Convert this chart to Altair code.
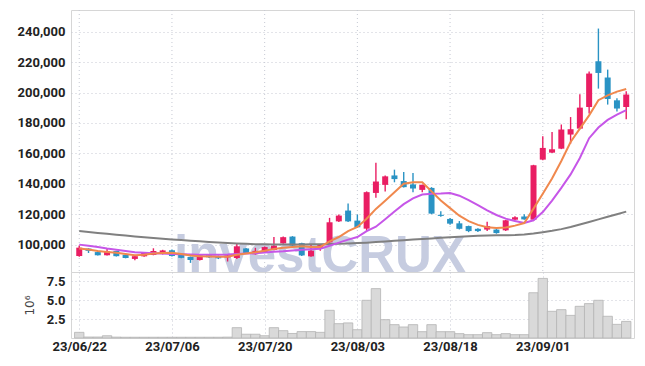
import altair as alt
import pandas as pd

# ---- data (trading-day index 0..59) ----
OPEN = [92500, 97400, 95100, 93000, 95800, 93300, 90600, 92300, 93200, 93800,
        96300, 93500, 91900, 89900, 93000, 92400, 91600, 91200, 97500, 93700,
        95200, 96500, 100800, 105300, 101000, 92300, 97300, 101500, 115300, 122400,
        115800, 110500, 134000, 139300, 145500, 141800, 139600, 136000, 137300, 119600,
        116900, 114000, 112200, 110400, 109900, 109900, 109400, 116400, 118500, 116400,
        155900, 160500, 163100, 172400, 176300, 190500, 220600, 209900, 194900, 190500]
HIGH = [99500, 97600, 95300, 97300, 96000, 93500, 92800, 95000, 97600, 96600,
        96800, 93700, 92200, 93500, 93500, 92800, 93300, 100800, 97800, 97900,
        98800, 105000, 105300, 105600, 101300, 99800, 100200, 117600, 119800, 127000,
        119800, 135000, 153800, 145500, 149300, 147800, 147100, 139600, 137800, 121900,
        117500, 115500, 112500, 110800, 115000, 110800, 116300, 118600, 120000, 152500,
        171200, 174000, 179000, 183900, 198900, 213900, 242100, 215100, 196300, 200900]
LOW = [92000, 94500, 92800, 92800, 92200, 91000, 89800, 92000, 93000, 93500,
       92200, 91000, 88000, 89500, 91200, 90500, 88900, 90500, 93800, 93400,
       94900, 96200, 100500, 99000, 92500, 92000, 96000, 101000, 114800, 114900,
       111000, 109000, 130900, 135000, 141000, 137500, 134400, 134500, 120000, 118400,
       113000, 110000, 108200, 108300, 109000, 107200, 109000, 115800, 116300, 115500,
       155500, 160200, 162800, 166400, 175800, 186200, 202600, 192100, 187500, 182400]
CLOSE = [98000, 95900, 93000, 95600, 92400, 91200, 92400, 94700, 95800, 96200,
         92500, 91300, 89900, 93000, 91700, 91000, 92900, 98900, 94100, 95900,
         98400, 99300, 104900, 99400, 92900, 96000, 99700, 114700, 119100, 115300,
         111400, 134500, 141500, 144900, 143100, 137800, 136900, 139300, 120400, 118900,
         113800, 110400, 108900, 108900, 112200, 107600, 116000, 118000, 116600, 152200,
         163600, 162700, 175700, 175900, 190100, 212500, 212900, 195800, 189500, 198700]

MA_SHORT = [97500, 96800, 95800, 95200, 94700, 93900, 93000, 93300, 94200, 94500,
            94600, 93800, 92800, 92400, 92200, 92100, 92000, 93400, 94200, 95000,
            96000, 97200, 97900, 98400, 98900, 98400, 98500, 102200, 105000, 108900,
            111600, 117000, 123500, 128900, 134400, 140000, 141000, 141000, 135000, 129000,
            124000, 119000, 115500, 113000, 111500, 110900, 111200, 112500, 114200, 123700,
            133500, 143500, 155000, 167500, 176300, 185000, 195000, 198200, 200600, 202400]
MA_MID = [100000, 99300, 98500, 97500, 96700, 95800, 95000, 94600, 94300, 94100,
          93900, 93700, 93500, 93400, 93400, 93400, 93500, 93900, 94200, 94400,
          94900, 95300, 95600, 96100, 96600, 96900, 97300, 99300, 101300, 103300,
          105000, 108900, 111800, 116700, 121800, 126600, 130400, 132900, 133400, 133600,
          134000, 132200, 129300, 126000, 122500, 119500, 117100, 115500, 114200, 116000,
          121400, 129000, 137300, 146200, 157000, 170000, 177000, 182000, 185500, 188500]
MA_LONG = [108900, 108300, 107700, 107100, 106500, 106000, 105400, 104900, 104400, 103900,
           103400, 103000, 102600, 102200, 101800, 101400, 101100, 100800, 100500, 100300,
           100200, 100100, 100100, 100100, 100100, 100200, 100300, 100400, 100600, 100800,
           101000, 101300, 101700, 102100, 102500, 102900, 103300, 103700, 104100, 104500,
           104900, 105200, 105500, 105800, 106000, 106100, 106200, 106300, 106600, 107300,
           108200, 109100, 110200, 111600, 113200, 114900, 116600, 118300, 120000, 121700]

VOLUME_M = [0.75, 0.13, 0.13, 0.30, 0.12, 0.10, 0.10, 0.10, 0.10, 0.10,
            0.10, 0.10, 0.10, 0.10, 0.10, 0.10, 0.12, 1.37, 0.50, 0.50,
            0.30, 1.37, 0.97, 0.60, 0.85, 0.85, 0.75, 3.67, 1.90, 2.00,
            1.10, 5.00, 6.55, 2.43, 1.77, 1.46, 1.77, 0.84, 1.77, 0.84,
            0.84, 0.58, 0.44, 0.44, 0.71, 0.44, 0.58, 0.44, 0.44, 6.00,
            7.90, 3.54, 3.76, 3.00, 4.20, 4.56, 5.00, 2.88, 1.81, 2.20]

TICK_POS = [0, 10, 20, 30, 40, 50]
TICK_LABELS = ["23/06/22", "23/07/06", "23/07/20", "23/08/03", "23/08/18", "23/09/01"]
PRICE_TICKS = [100000, 120000, 140000, 160000, 180000, 200000, 220000, 240000]
VOL_TICKS = [2.5, 5.0, 7.5]
WATERMARK = "investCRUX"

# ---- styling ----
FONT = "Roboto"
RED = "#e91e63"
BLUE = "#2a93c4"
GRID = "#c6c9d3"

n = len(OPEN)
df = pd.DataFrame({
    "i": list(range(n)), "open": OPEN, "high": HIGH, "low": LOW, "close": CLOSE,
    "ma5": MA_SHORT, "ma20": MA_MID, "ma60": MA_LONG, "vol": VOLUME_M,
})
df["dir"] = ["up" if c >= o else "down" for o, c in zip(OPEN, CLOSE)]
ticks_df = pd.DataFrame({"i": TICK_POS})

xscale = alt.Scale(domain=[-0.35, 59.3], nice=False, zero=False)
label_expr = "{" + ",".join(f"'{p}':'{l}'" for p, l in zip(TICK_POS, TICK_LABELS)) + "}[datum.value]"

x_price = alt.X("i:Q", scale=xscale, axis=None)
yscale = alt.Scale(domain=[82000, 254300], nice=False, zero=False)
y_axis = alt.Axis(values=PRICE_TICKS, format=",d", title=None, grid=True,
                  ticks=False, domain=False, labelPadding=6, labelOverlap=False)
color = alt.Color("dir:N", scale=alt.Scale(domain=["up", "down"], range=[RED, BLUE]), legend=None)

base = alt.Chart(df)

vgrid = alt.Chart(ticks_df).mark_rule(color=GRID, strokeDash=[1, 3], strokeWidth=1).encode(
    x=x_price)

wm = alt.Chart(pd.DataFrame({"t": [WATERMARK]})).mark_text(
    font="Liberation Sans", fontWeight="bold", fontSize=51, color="#c6cce0",
    align="center", baseline="alphabetic"
).encode(x=alt.value(249), y=alt.value(262), text="t:N")

wicks = base.mark_rule(strokeWidth=1.4).encode(
    x=x_price, y=alt.Y("low:Q", scale=yscale, axis=y_axis), y2="high:Q", color=color)
bodies = base.mark_bar(size=6).encode(
    x=x_price, y=alt.Y("open:Q", scale=yscale, axis=y_axis), y2="close:Q", color=color)

l_long = base.mark_line(color="#808080", strokeWidth=2).encode(
    x=x_price, y=alt.Y("ma60:Q", scale=yscale, axis=y_axis))
l_mid = base.mark_line(color="#c656e8", strokeWidth=2).encode(
    x=x_price, y=alt.Y("ma20:Q", scale=yscale, axis=y_axis))
l_short = base.mark_line(color="#f0884d", strokeWidth=2).encode(
    x=x_price, y=alt.Y("ma5:Q", scale=yscale, axis=y_axis))

price = alt.layer(vgrid, wm, wicks, bodies, l_long, l_mid, l_short).properties(
    width=563, height=262)

volume = base.mark_bar(size=9.4, fill="#d9d9d9", stroke="#b4b4b4", strokeWidth=0.8).encode(
    x=alt.X("i:Q", scale=xscale,
            axis=alt.Axis(values=TICK_POS, labelExpr=label_expr, ticks=False, domain=False,
                          title=None, grid=True, labelPadding=2, labelOverlap=False)),
    y=alt.Y("vol:Q", scale=alt.Scale(domain=[0, 8.75], nice=False),
            axis=alt.Axis(values=VOL_TICKS, format=".1f", title="10⁶", grid=True,
                          ticks=False, domain=False, labelPadding=6, titlePadding=10,
                          labelOverlap=False,
                          titleFont="DejaVu Sans", titleFontWeight="normal",
                          titleFontSize=12, titleColor="#444")),
).properties(width=563, height=66)

chart = alt.vconcat(price, volume, spacing=0, bounds="flush").properties(
    padding={"left": 8, "top": 1, "right": 1, "bottom": 0}
).configure_view(stroke="#d6d6d6", strokeWidth=1).configure_axis(
    labelFont=FONT, labelFontSize=13, labelFontWeight="bold", labelColor="#222",
    gridColor=GRID, gridDash=[1, 3], gridWidth=1, labelOverlap=False,
)

chart.save("out.html", embed_options={"renderer": "svg", "actions": False})
